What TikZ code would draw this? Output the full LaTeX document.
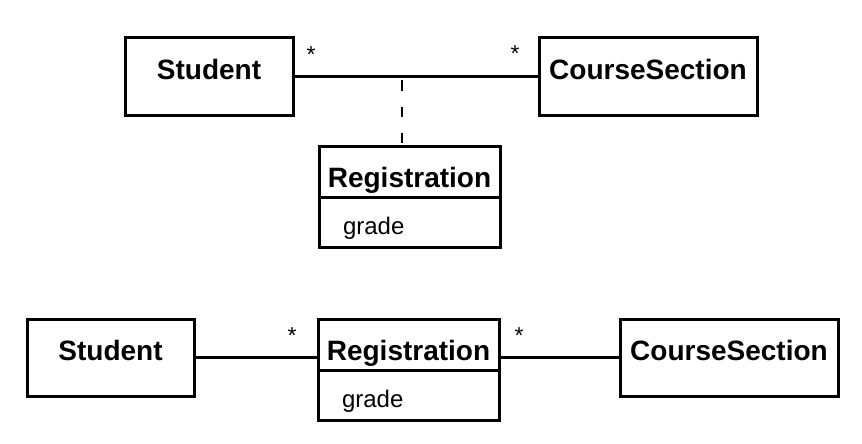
\documentclass[tikz,border=0pt]{standalone}
\usepackage{fontspec}
\setmainfont{Liberation Sans}
\usetikzlibrary{shapes.multipart,positioning,calc}
\newlength{\UMLClassHeight}
\setlength{\UMLClassHeight}{77pt}
\newcommand{\namestrut}{\rule[-8.5pt]{0pt}{48pt}}
\newcommand{\attrstrut}{\rule[-11pt]{0pt}{47pt}}
\tikzset{/uml/class/.style={
	rectangle, draw=black, line width=3pt, inner sep=0, outer sep=0, minimum height=\UMLClassHeight, text height=41pt, text depth=36pt, font=\fontsize{28}{32}\selectfont\bfseries, anchor=north west
}}
\tikzset{/uml/class2/.style={
rectangle split, rectangle split parts=2, rectangle split part align={center, left}, draw=black, line width=3pt, inner sep=0, outer sep=0, minimum width=181pt, anchor=north west, every one node part/.style={font=\fontsize{28}{32}\selectfont\bfseries}, every two node part/.style={font=\fontsize{24}{28}\selectfont}
}}
\tikzset{/uml/mult/.style={inner sep=0, font=\fontsize{23}{26}\selectfont}}
\tikzset{/uml/assoc/.style={line width=2.6pt}}

\begin{document}
\begin{tikzpicture}[x=1pt, y=1pt]
			\useasboundingbox (0,0) rectangle (862,-444);
			% association class
			\path (125,-38) node[/uml/class, minimum width=168pt] (StudentA) {Student};
			\path (StudentA.north east) ++(246pt, 0) node[/uml/class, minimum width=218pt] (CourseA) {CourseSection};
			\path (StudentA.north east) ++(26pt, -108pt) node[/uml/class2] (RegA) {\namestrut{\fontsize{28}{32}\selectfont\bfseries Registration}\nodepart{two}\hspace{24pt}\attrstrut{\fontsize{24}{28}\selectfont grade}};
			\path[/uml/assoc, draw] (StudentA.east) -- (CourseA.west);
			\coordinate (AssocA) at ($(StudentA.east)+(109pt,0)$);
			\path[/uml/assoc, draw, dash pattern=on 10pt off 16pt, dash phase=22pt] (AssocA) -- (AssocA |- RegA.north);
			\path (StudentA.east) ++(18pt, 22pt) node[/uml/mult] (MultA1) {*};
			\path (CourseA.west) ++(-24pt, 22.5pt) node[/uml/mult] (MultA2) {*};
			% reified class
			\path (StudentA.north west) ++(-98pt, -281pt) node[/uml/class, minimum width=167pt] (StudentB) {Student};
			\path (StudentB.north east) ++(124pt, 0) node[/uml/class2] (RegB) {\namestrut{\fontsize{28}{32}\selectfont\bfseries Registration}\nodepart{two}\hspace{24pt}\attrstrut{\fontsize{24}{28}\selectfont grade}};
			\path (RegB.north east) ++(121pt, 0) node[/uml/class, minimum width=218pt] (CourseB) {CourseSection};
			\path[/uml/assoc, draw] (StudentB.east) -- (StudentB.east -| RegB.west);
			\path[/uml/assoc, draw] (CourseB.west -| RegB.east) -- (CourseB.west);
			\path (StudentB.east -| RegB.west) ++(-26pt, 21.5pt) node[/uml/mult] (MultB1) {*};
			\path (CourseB.west -| RegB.east) ++(20pt, 21.5pt) node[/uml/mult] (MultB2) {*};
		\end{tikzpicture}
\end{document}
